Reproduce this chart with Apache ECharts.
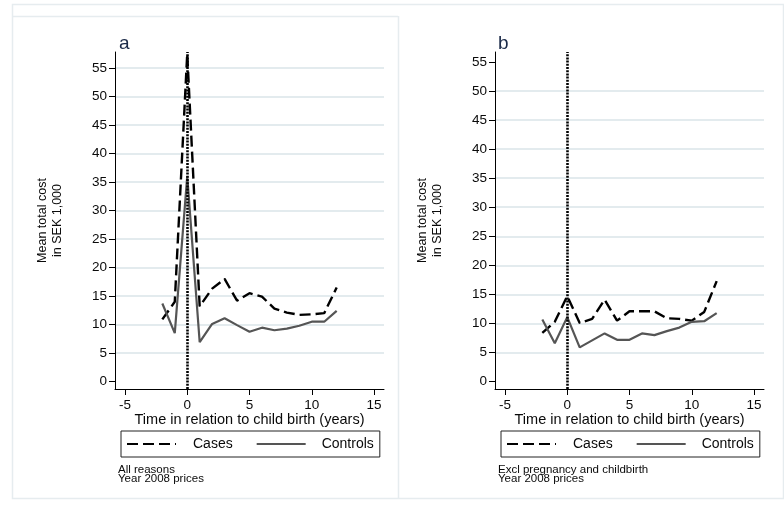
<!DOCTYPE html>
<html>
<head>
<meta charset="utf-8">
<script src="https://cdn.jsdelivr.net/npm/echarts@6/dist/echarts.min.js"></script>
<style>
html,body{margin:0;padding:0;background:#fff;}
#chart{width:784px;height:509px;}
</style>
</head>
<body>
<div id="chart"></div>
<script>
// ---- data ----
const years = [-2, -1, 0, 1, 2, 3, 4, 5, 6, 7, 8, 9, 10, 11, 12];
const aCases    = [10.9, 14.0, 57.5, 13.2, 16.3, 18.0, 14.2, 15.5, 14.9, 12.8, 12.1, 11.7, 11.8, 12.0, 16.5];
const aControls = [13.7, 8.5, 36.0, 6.9, 10.1, 11.1, 9.9, 8.75, 9.45, 9.0, 9.3, 9.8, 10.5, 10.5, 12.4];
const bCases    = [8.4, 10.3, 14.7, 10.1, 10.8, 14.1, 10.5, 12.1, 12.1, 12.1, 10.9, 10.8, 10.5, 12.0, 17.3];
const bControls = [10.7, 6.6, 11.1, 5.9, 7.1, 8.3, 7.2, 7.2, 8.3, 8.0, 8.7, 9.3, 10.3, 10.4, 11.8];
const yTicks = [0, 5, 10, 15, 20, 25, 30, 35, 40, 45, 50, 55];
const xTicks = [-5, 0, 5, 10, 15];
const panelTitles = ['a', 'b'];
const notes = ['All reasons\nYear 2008 prices', 'Excl pregnancy and childbirth\nYear 2008 prices'];
const xName = 'Time in relation to child birth (years)';
const yName = 'Mean total cost\nin SEK 1,000';
const birthYear = 0;

const FONT = '"Liberation Sans", Arial, Helvetica, sans-serif';
const TXT = '#0a0a0a';
const GRID = '#e3ebee';

const pairs = arr => years.map((x, i) => [x, arr[i]]);

function xAxis(gi) {
  return {
    gridIndex: gi, type: 'value', min: -5.8, max: 15.8,
    axisLine: {show: true, onZero: false, lineStyle: {color: '#000', width: 1}},
    axisTick: {show: true, length: 6, customValues: xTicks, lineStyle: {color: '#000'}},
    axisLabel: {customValues: xTicks, margin: 9, fontSize: 13.5, color: TXT, fontFamily: FONT},
    splitLine: {show: false},
    name: xName, nameLocation: 'middle', nameGap: 23, nameMoveOverlap: false,
    nameTextStyle: {fontSize: 14.5, color: TXT, fontFamily: FONT}
  };
}
function yAxis(gi, min, max, gridColors) {
  return {
    gridIndex: gi, type: 'value', min: min, max: max,
    axisLine: {show: true, onZero: false, lineStyle: {color: '#000', width: 1}},
    axisTick: {show: true, length: 6, customValues: yTicks, lineStyle: {color: '#000'}},
    axisLabel: {customValues: yTicks, margin: 8, fontSize: 13.5, color: TXT, fontFamily: FONT},
    splitLine: {show: true, lineStyle: {color: gridColors, width: 2}},
    name: yName, nameLocation: 'middle', nameGap: 50, nameRotate: 90, nameMoveOverlap: false,
    nameTextStyle: {fontSize: 12.5, lineHeight: 15, color: TXT, fontFamily: FONT, align: 'center'}
  };
}
const gA = ['transparent'].concat(yTicks.slice(1).map(() => GRID));
const gB = ['transparent'].concat(yTicks.slice(1, -1).map(() => GRID)).concat(['transparent']);

function lineSeries(name, gi, arr, dashed) {
  const col = dashed ? '#000' : '#555';
  return {
    name: name, type: 'line', xAxisIndex: gi, yAxisIndex: gi,
    data: pairs(arr), symbol: 'none', animation: false, z: 3,
    itemStyle: {color: col},
    lineStyle: dashed ? {color: col, width: 2.4, type: [11, 5]} : {color: col, width: 2.2, type: 'solid'}
  };
}
function birthLine(gi) {
  return {
    name: 'birth' + gi, type: 'line', xAxisIndex: gi, yAxisIndex: gi, data: [], z: 6,
    animation: false,
    markLine: {
      silent: true, symbol: ['none', 'none'], animation: false,
      label: {show: false},
      lineStyle: {color: '#000', width: 2.6, type: [2, 1.2]},
      data: [{xAxis: birthYear}]
    }
  };
}
function legend(left) {
  return {
    left: left, top: 431, orient: 'horizontal',
    borderColor: '#222', borderWidth: 1, borderRadius: 0,
    padding: [6, 6, 6, 5], itemWidth: 49, itemHeight: 14, itemGap: 23,
    selectedMode: false,
    itemStyle: {color: 'transparent', borderWidth: 0, opacity: 0},
    textStyle: {fontSize: 14, color: TXT, fontFamily: FONT},
    data: [
      {name: 'Cases', textStyle: {padding: [0, 0, 0, 12]}},
      {name: 'Controls', textStyle: {padding: [0, 0, 0, 11]}}
    ]
  };
}

const option = {
  backgroundColor: '#fff',
  animation: false,
  textStyle: {fontFamily: FONT},
  title: [
    {text: panelTitles[0], left: 119, top: 34, padding: 0, textStyle: {fontSize: 19, fontWeight: 'normal', color: '#1b2a48', fontFamily: FONT}},
    {text: panelTitles[1], left: 498, top: 34, padding: 0, textStyle: {fontSize: 19, fontWeight: 'normal', color: '#1b2a48', fontFamily: FONT}},
    {text: notes[0], left: 118, top: 465, padding: 0, textStyle: {fontSize: 11.5, lineHeight: 9.5, fontWeight: 'normal', color: TXT, fontFamily: FONT}},
    {text: notes[1], left: 498, top: 465, padding: 0, textStyle: {fontSize: 11.5, lineHeight: 9.5, fontWeight: 'normal', color: TXT, fontFamily: FONT}}
  ],
  graphic: [
    {type: 'rect', silent: true, z: -10, shape: {x: 12.5, y: 4.5, width: 771, height: 494}, style: {fill: 'none', stroke: '#e6ecef', lineWidth: 1.5}},
    {type: 'line', silent: true, z: -10, shape: {x1: 398.5, y1: 16, x2: 398.5, y2: 498}, style: {stroke: '#e6ecef', lineWidth: 1.5}},
    {type: 'line', silent: true, z: -10, shape: {x1: 12, y1: 16.5, x2: 398, y2: 16.5}, style: {stroke: '#e6ecef', lineWidth: 1.5}}
  ],
  legend: [legend(121), legend(501)],
  grid: [
    {left: 115, top: 52, width: 269, height: 337, containLabel: false},
    {left: 495, top: 52, width: 269, height: 337, containLabel: false}
  ],
  xAxis: [xAxis(0), xAxis(1)],
  yAxis: [yAxis(0, -1.3, 57.8, gA), yAxis(1, -1.26, 56.7, gB)],
  series: [
    lineSeries('Cases', 0, aCases, true),
    lineSeries('Controls', 0, aControls, false),
    lineSeries('Cases', 1, bCases, true),
    lineSeries('Controls', 1, bControls, false),
    birthLine(0),
    birthLine(1)
  ]
};
const chart = echarts.init(document.getElementById('chart'), null, {renderer: 'canvas'});
chart.setOption(option);
</script>
</body>
</html>
